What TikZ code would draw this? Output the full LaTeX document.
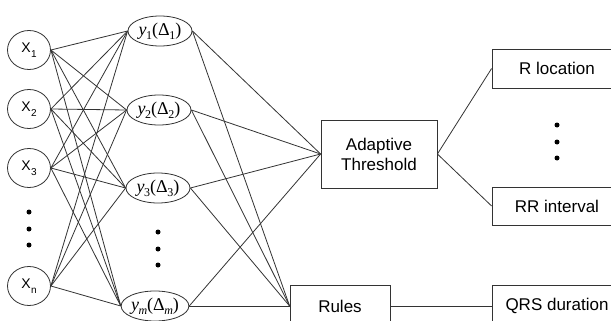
\documentclass[tikz,border=0pt]{standalone}
\usepackage{fontspec}
\setmainfont{Liberation Sans}
\newfontfamily\serifface{Liberation Serif}
\usetikzlibrary{shapes.geometric}

% labels of the input and hidden units
\newcommand\xlab[1]{X\kern0.5pt\raisebox{-5pt}{\fontsize{10}{12}\selectfont #1}}
\newcommand\ylab[2]{\textit{y}\kern-0.5pt\raisebox{-4pt}{\fontsize{12}{14}\selectfont #1}(Δ\kern-0.5pt\raisebox{-4pt}{\fontsize{12}{14}\selectfont #2})}

\begin{document}
\begin{tikzpicture}[x=1pt,y=-1pt,
  inp/.style={ellipse, draw=black!80, line width=0.8pt, minimum width=43pt, minimum height=39pt, inner sep=0pt, font=\fontsize{14}{16}\selectfont},
  hid/.style={ellipse, draw=black!80, line width=0.8pt, minimum width=64pt, minimum height=30pt, inner sep=0pt, font=\serifface\fontsize{18}{21}\selectfont},
  blk/.style={rectangle, draw=black!80, line width=0.8pt, inner sep=0pt, align=center, font=\fontsize{17}{20}\selectfont},
  link/.style={draw=black!80, line width=0.8pt},
  dotmark/.style={circle, fill=black, inner sep=0pt, minimum size=5pt}]

\useasboundingbox (0,0) rectangle (611,321);
\fill[white] (0,0) rectangle (611,321);
\clip (0,0) rectangle (611,321);

% input layer
\node[inp] (x1) at (29,50)  {\xlab{1}};
\node[inp] (x2) at (29,109) {\xlab{2}};
\node[inp] (x3) at (29,168) {\xlab{3}};
\node[inp] (xn) at (29,286) {\xlab{n}};
\node[dotmark] (dx1) at (29,212) {};
\node[dotmark] (dx2) at (29,229) {};
\node[dotmark] (dx3) at (29,245) {};

% hidden layer
\node[hid] (y1) at (160,31)  {\ylab{1}{1}};
\node[hid] (y2) at (159,110) {\ylab{2}{2}};
\node[hid] (y3) at (158,188) {\ylab{3}{3}};
\node[hid] (ym) at (155,306) {\ylab{\textit{m}}{\textit{m}}};
\node[dotmark] (dy1) at (158,232) {};
\node[dotmark] (dy2) at (158,249) {};
\node[dotmark] (dy3) at (158,265) {};

% decision blocks
\node[blk, minimum width=116pt, minimum height=68pt] (at) at (379,154) {Adaptive\\Threshold};
\node[blk, minimum width=100pt, minimum height=42pt] (rules) at (340,306) {Rules};

% outputs
\node[blk, minimum width=130pt, minimum height=39pt] (rloc) at (557,68.5) {R location};
\node[blk, minimum width=130pt, minimum height=38pt] (rr) at (557,206) {RR interval};
\node[blk, minimum width=130pt, minimum height=42pt] (qrs) at (557,306) {QRS duration};
\node[dotmark] (do1) at (557,125) {};
\node[dotmark] (do2) at (557,142) {};
\node[dotmark] (do3) at (557,158) {};

% connections
\foreach \a in {x1,x2,x3,xn}
  \foreach \b in {y1,y2,y3,ym}
    \draw[link] (\a.east) -- (\b.west);
\foreach \b in {y1,y2,y3,ym} {
  \draw[link] (\b.east) -- (at.west);
  \draw[link] (\b.east) -- (rules.west);
}
\draw[link] (at.east) -- (rloc.west);
\draw[link] (at.east) -- (rr.west);
\draw[link] (rules.east) -- (qrs.west);
\end{tikzpicture}
\end{document}
